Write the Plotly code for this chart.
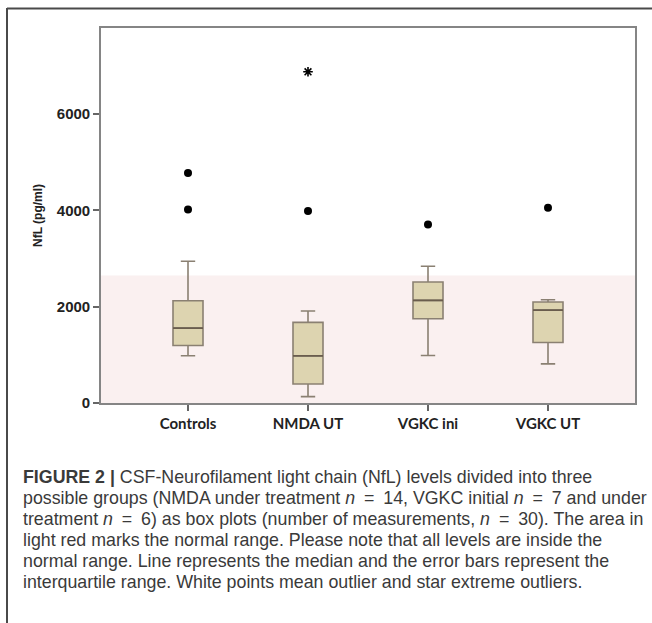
import plotly.graph_objects as go

categories = ["Controls", "NMDA UT", "VGKC ini", "VGKC UT"]
q1 = [1195, 395, 1750, 1257]
median = [1556, 980, 2132, 1931]
q3 = [2125, 1674, 2514, 2097]
lower_whisker = [980, 132, 986, 813]
upper_whisker = [2944, 1910, 2840, 2146]

outlier_x = ["Controls", "Controls", "NMDA UT", "VGKC ini", "VGKC UT"]
outlier_y = [4778, 4021, 3986, 3708, 4056]
extreme_x = ["NMDA UT"]
extreme_y = [6880]

normal_upper = 2650
y_ticks = [0, 2000, 4000, 6000]
y_title = "NfL (pg/ml)"

EQ = "&#8194;=&#8194;"
caption_lines = [
    "<b>FIGURE 2 |</b> CSF-Neurofilament light chain (NfL) levels divided into three",
    "possible groups (NMDA under treatment <i>n</i>" + EQ + "14, VGKC initial <i>n</i>" + EQ + "7 and under",
    "treatment <i>n</i>" + EQ + "6) as box plots (number of measurements, <i>n</i>" + EQ + "30). The area in",
    "light red marks the normal range. Please note that all levels are inside the",
    "normal range. Line represents the median and the error bars represent the",
    "interquartile range. White points mean outlier and star extreme outliers.",
]

W, H = 652, 623
L, R, T, B = 101, 17, 28, 220
plot_h = H - T - B
plot_w = W - L - R


def py(pix):
    return (H - B - pix) / plot_h


def px(pix):
    return (pix - L) / plot_w


fig = go.Figure()

fig.add_trace(go.Box(
    x=categories, q1=q1, median=median, q3=q3,
    lowerfence=lower_whisker, upperfence=upper_whisker,
    width=0.25, whiskerwidth=0.48,
    fillcolor="#DDD4B0", line=dict(color="#8A8072", width=1.6),
    boxpoints=False, showlegend=False, hoverinfo="skip",
))

# darker median line drawn as a zero-height box at the median
fig.add_trace(go.Box(
    x=categories, q1=median, median=median, q3=median,
    lowerfence=median, upperfence=median,
    width=0.25, whiskerwidth=0,
    fillcolor="rgba(0,0,0,0)", line=dict(color="#6A5D4D", width=1.8),
    boxpoints=False, showlegend=False, hoverinfo="skip",
))

fig.add_trace(go.Scatter(
    x=outlier_x, y=outlier_y, mode="markers",
    marker=dict(symbol="circle", size=8, color="black"),
    showlegend=False, hoverinfo="skip",
))

fig.add_trace(go.Scatter(
    x=extreme_x, y=extreme_y, mode="markers",
    marker=dict(symbol="asterisk-open", size=8, color="black",
                line=dict(color="black", width=1.6)),
    showlegend=False, hoverinfo="skip",
))

# normal range band
fig.add_shape(type="rect", xref="x domain", yref="y", x0=0, x1=1,
              y0=0, y1=normal_upper, fillcolor="#FAF0F0",
              line=dict(width=0), layer="below")

# outer frame (left and top edges)
fig.add_shape(type="line", xref="paper", yref="paper",
              x0=px(7), x1=px(7), y0=py(8), y1=py(H + 5),
              line=dict(color="#4a4a4a", width=2))
fig.add_shape(type="line", xref="paper", yref="paper",
              x0=px(7), x1=px(W + 5), y0=py(8.5), y1=py(8.5),
              line=dict(color="#4a4a4a", width=2))

# y-axis title
fig.add_annotation(text="<b>" + y_title + "</b>", xref="paper", yref="paper",
                   x=px(38), y=py(216), textangle=-90, showarrow=False,
                   font=dict(family="Liberation Sans", size=12, color="#222"),
                   xanchor="center", yanchor="middle")

line_y = [477, 498, 519, 540, 561, 582]
for txt, yy in zip(caption_lines, line_y):
    fig.add_annotation(text=txt, xref="paper", yref="paper",
                       x=px(21), y=py(yy), showarrow=False,
                       xanchor="left", yanchor="middle", align="left",
                       font=dict(family="Liberation Sans", size=17.8, color="#3a3a3a"))

fig.update_layout(
    width=W, height=H,
    margin=dict(l=L, r=R, t=T, b=B, autoexpand=False),
    paper_bgcolor="white", plot_bgcolor="white",
    xaxis=dict(
        type="category", range=[-0.725, 3.725],
        showgrid=False, zeroline=False,
        showline=True, mirror=True, linecolor="#858585", linewidth=1.6,
        ticks="outside", ticklen=6, tickcolor="#666", tickwidth=1.5,
        tickfont=dict(family="Lato", size=15, color="#222", weight="bold"),
    ),
    yaxis=dict(
        range=[0, 7790], tickvals=y_ticks,
        showgrid=False, zeroline=False,
        showline=True, mirror=True, linecolor="#858585", linewidth=1.6,
        ticks="outside", ticklen=6, tickcolor="#666", tickwidth=1.5,
        tickfont=dict(family="Liberation Sans", size=15, color="#222", weight="bold"),
    ),
)

fig.write_html("out.html", config={"displayModeBar": False},
               post_script="document.body.style.margin='0';document.body.style.overflow='hidden';")
